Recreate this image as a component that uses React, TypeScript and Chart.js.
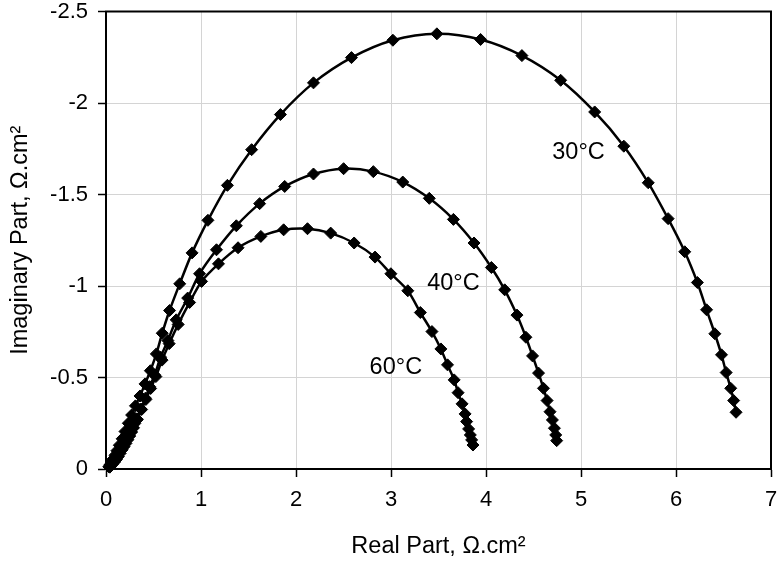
import React, { useEffect, useRef } from 'react';
import { Chart, registerables } from 'chart.js';
Chart.register(...registerables);

const xTickValues = [0, 1, 2, 3, 4, 5, 6, 7];
const xTickLabels = ['0', '1', '2', '3', '4', '5', '6', '7'];
const yTickValues = [-2.5, -2, -1.5, -1, -0.5, 0];
const yTickLabels = ['-2.5', '-2', '-1.5', '-1', '-0.5', '0'];

const xTitle = 'Real Part, Ω.cm²';
const yTitle = 'Imaginary Part, Ω.cm²';

const seriesNames = ['30°C', '40°C', '60°C'];
const labelX = [4.974, 3.657, 3.051];
const labelY = [-1.729, -1.012, -0.553];

const t30Real = [0.035, 0.045, 0.06, 0.075, 0.095, 0.115, 0.14, 0.17, 0.2, 0.235, 0.27, 0.31, 0.358, 0.411, 0.467, 0.53, 0.592, 0.669, 0.776, 0.906, 1.073, 1.278, 1.533, 1.836, 2.184, 2.584, 3.02, 3.483, 3.943, 4.378, 4.786, 5.144, 5.451, 5.708, 5.917, 6.092, 6.225, 6.322, 6.409, 6.479, 6.528, 6.576, 6.607, 6.632];
const t30Imag = [-0.015, -0.025, -0.04, -0.055, -0.075, -0.1, -0.13, -0.165, -0.205, -0.25, -0.295, -0.345, -0.399, -0.465, -0.537, -0.629, -0.742, -0.866, -1.012, -1.181, -1.359, -1.55, -1.745, -1.937, -2.11, -2.248, -2.343, -2.378, -2.347, -2.259, -2.124, -1.951, -1.764, -1.564, -1.368, -1.187, -1.019, -0.87, -0.739, -0.624, -0.527, -0.441, -0.374, -0.31];

const t40Real = [0.03, 0.042, 0.058, 0.073, 0.095, 0.115, 0.135, 0.157, 0.18, 0.2, 0.22, 0.24, 0.262, 0.282, 0.303, 0.324, 0.366, 0.415, 0.46, 0.512, 0.575, 0.651, 0.739, 0.86, 0.985, 1.163, 1.372, 1.617, 1.881, 2.184, 2.501, 2.814, 3.124, 3.403, 3.657, 3.874, 4.057, 4.197, 4.326, 4.42, 4.49, 4.553, 4.605, 4.643, 4.674, 4.699, 4.72, 4.734, 4.744];
const t40Imag = [-0.012, -0.022, -0.033, -0.044, -0.058, -0.071, -0.087, -0.104, -0.123, -0.142, -0.161, -0.18, -0.202, -0.224, -0.249, -0.274, -0.328, -0.387, -0.45, -0.514, -0.611, -0.702, -0.815, -0.934, -1.067, -1.198, -1.329, -1.45, -1.544, -1.612, -1.641, -1.625, -1.568, -1.479, -1.364, -1.235, -1.101, -0.979, -0.841, -0.72, -0.618, -0.524, -0.441, -0.374, -0.313, -0.268, -0.223, -0.186, -0.155];

const t60Real = [0.04, 0.055, 0.07, 0.09, 0.11, 0.13, 0.15, 0.17, 0.19, 0.21, 0.23, 0.25, 0.27, 0.29, 0.33, 0.375, 0.42, 0.47, 0.525, 0.59, 0.665, 0.76, 0.88, 1.006, 1.184, 1.39, 1.63, 1.87, 2.121, 2.365, 2.612, 2.832, 2.999, 3.177, 3.309, 3.431, 3.525, 3.595, 3.665, 3.706, 3.748, 3.78, 3.796, 3.817, 3.835, 3.849, 3.863];
const t60Imag = [-0.01, -0.018, -0.027, -0.038, -0.052, -0.068, -0.086, -0.105, -0.122, -0.14, -0.16, -0.18, -0.202, -0.225, -0.27, -0.325, -0.38, -0.44, -0.505, -0.595, -0.685, -0.79, -0.91, -1.025, -1.121, -1.209, -1.271, -1.307, -1.313, -1.289, -1.235, -1.158, -1.067, -0.974, -0.855, -0.751, -0.656, -0.569, -0.487, -0.417, -0.356, -0.301, -0.259, -0.219, -0.186, -0.159, -0.131];

const FONT = '"Liberation Sans", Arial, sans-serif';

function toPoints(xs: number[], ys: number[]) {
  return xs.map((x, i) => ({ x, y: ys[i] }));
}

export default function App() {
  const ref = useRef<HTMLCanvasElement | null>(null);

  useEffect(() => {
    if (!ref.current) return;
    const seriesData = [
      toPoints(t30Real, t30Imag),
      toPoints(t40Real, t40Imag),
      toPoints(t60Real, t60Imag),
    ];

    const framePlugin = {
      id: 'frame',
      beforeDatasetsDraw(chart: any) {
        const { ctx, chartArea } = chart;
        ctx.save();
        ctx.strokeStyle = '#000';
        ctx.lineWidth = 2;
        ctx.strokeRect(chartArea.left, chartArea.top, chartArea.right - chartArea.left, chartArea.bottom - chartArea.top);
        ctx.restore();
      },
      afterDatasetsDraw(chart: any) {
        const { ctx, scales } = chart;
        ctx.save();
        ctx.fillStyle = '#000';
        ctx.font = `23.5px ${FONT}`;
        ctx.textAlign = 'center';
        ctx.textBaseline = 'middle';
        seriesNames.forEach((name, i) => {
          ctx.fillText(name, scales.x.getPixelForValue(labelX[i]), scales.y.getPixelForValue(labelY[i]));
        });
        ctx.restore();
      },
    };

    const chart = new Chart(ref.current, {
      type: 'scatter',
      data: {
        datasets: seriesData.map((d, i) => ({
          label: seriesNames[i],
          data: d,
          showLine: true,
          borderColor: '#000',
          borderWidth: 2.5,
          tension: 0.3,
          pointStyle: 'rectRot',
          pointRadius: 6,
          pointBackgroundColor: '#000',
          pointBorderColor: '#000',
          pointBorderWidth: 1,
          clip: false as any,
        })),
      },
      options: {
        animation: false,
        responsive: false,
        devicePixelRatio: 1,
        layout: { padding: { top: 11.5, right: 2, left: 0, bottom: 0 } },
        plugins: { legend: { display: false }, tooltip: { enabled: false } },
        scales: {
          x: {
            type: 'linear',
            min: 0,
            max: 7,
            afterFit(scale: any) {
              scale.height = 96;
              scale.paddingLeft = 0;
              scale.paddingRight = 0;
            },
            afterBuildTicks(scale: any) {
              scale.ticks = xTickValues.map((v) => ({ value: v }));
            },
            ticks: {
              color: '#000',
              font: { family: FONT, size: 22 },
              padding: 10,
              maxRotation: 0,
              callback: (v: any) => {
                const i = xTickValues.findIndex((t) => Math.abs(t - Number(v)) < 1e-9);
                return i >= 0 ? xTickLabels[i] : '';
              },
            },
            grid: { color: '#d4d4d4', lineWidth: 1, tickColor: '#000', tickLength: 8, tickWidth: 1.5 },
            border: { display: true, color: '#000', width: 2 },
            title: {
              display: true,
              text: xTitle,
              color: '#000',
              font: { family: FONT, size: 23.5 },
              padding: { top: 0, bottom: 4 },
            },
          },
          y: {
            type: 'linear',
            min: -2.5,
            max: 0,
            reverse: true,
            afterFit(scale: any) {
              scale.width = 106;
              scale.paddingTop = 0;
              scale.paddingBottom = 0;
            },
            afterBuildTicks(scale: any) {
              scale.ticks = yTickValues.map((v) => ({ value: v }));
            },
            ticks: {
              color: '#000',
              font: { family: FONT, size: 22 },
              padding: 10,
              callback: (v: any) => {
                const i = yTickValues.findIndex((t) => Math.abs(t - Number(v)) < 1e-9);
                return i >= 0 ? yTickLabels[i] : '';
              },
            },
            grid: { color: '#d4d4d4', lineWidth: 1, tickColor: '#000', tickLength: 8, tickWidth: 1.5 },
            border: { display: true, color: '#000', width: 2 },
            title: {
              display: true,
              text: yTitle,
              color: '#000',
              font: { family: FONT, size: 23.5 },
              padding: { top: 6, bottom: 0 },
            },
          },
        },
      },
      plugins: [framePlugin],
    } as any);

    return () => chart.destroy();
  }, []);

  return (
    <div style={{ position: 'fixed', left: 0, top: 0, width: 778, height: 565, background: '#fff' }}>
      <canvas ref={ref} width={778} height={565} style={{ display: 'block' }} />
    </div>
  );
}
